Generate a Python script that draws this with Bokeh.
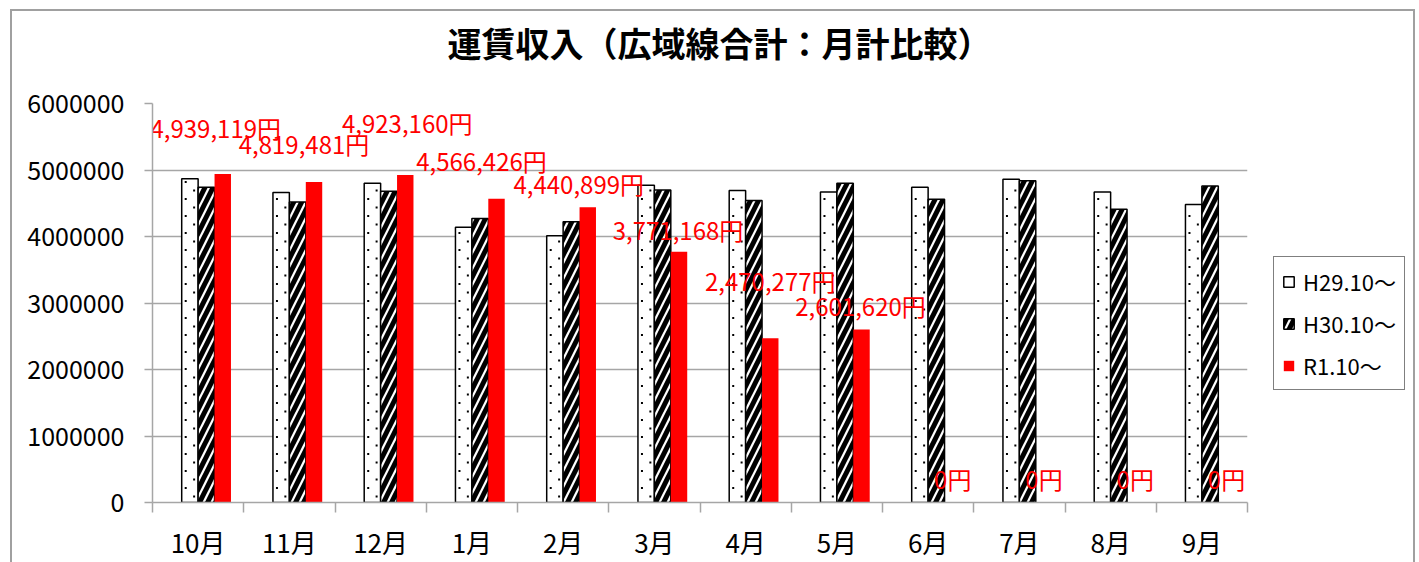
import numpy as np
from bokeh.plotting import figure
from bokeh.models import (Range1d, FixedTicker, BasicTickFormatter, Legend, LegendItem,
                          Title, ColumnDataSource)
from bokeh.core.properties import value
from bokeh.transform import dodge
from bokeh.embed import file_html
from bokeh.resources import INLINE

# ---- data ----
months = ["10月", "11月", "12月", "1月", "2月", "3月", "4月", "5月", "6月", "7月", "8月", "9月"]
h29 = [4870000, 4660000, 4800000, 4140000, 4010000, 4770000, 4690000, 4670000, 4740000, 4860000, 4670000, 4480000]
h30 = [4740000, 4520000, 4680000, 4270000, 4220000, 4700000, 4540000, 4800000, 4560000, 4840000, 4410000, 4760000]
r1 = [4939119, 4819481, 4923160, 4566426, 4440899, 3771168, 2470277, 2601620, 0, 0, 0, 0]
series_names = ["H29.10〜", "H30.10〜", "R1.10〜"]
y_ticks = [0, 1000000, 2000000, 3000000, 4000000, 5000000, 6000000]
title_text = "運賃収入（広域線合計：月計比較）"

# label placement (data-unit y of label centre, pixel x nudge)
label_y = [5640000, 5400000, 5710000, 5140000, 4790000, 4110000, 3340000, 2960000, 360000, 360000, 360000, 360000]
label_dx = [-7, -10, 2, -15, -9, -1, 0, -1, 0, 0, 0, 0]

FONT = "Noto Sans CJK JP"
GRID = "#a6a6a6"
FRAME_W, FRAME_H = 1095, 399
LEFT, RIGHT, TOP, BOTTOM = 152, 171, 103, 59
SHIFT = 21           # extra room above the title, scrolled away with a negative top margin
W, H = LEFT + FRAME_W + RIGHT, TOP + SHIFT + FRAME_H + BOTTOM

n = len(months)
xc = np.arange(n) + 0.5
src = ColumnDataSource(dict(
    x=xc, h29=h29, h30=h30, r1=r1,
    label_y=label_y, label_dx=label_dx,
    label_text=["{:,}円".format(v) for v in r1],
))

p = figure(width=W, height=H, frame_width=FRAME_W, frame_height=FRAME_H,
           output_backend="svg", toolbar_location=None,
           x_range=Range1d(0, n), y_range=Range1d(0, max(y_ticks)),
           min_border_left=LEFT, min_border_right=RIGHT, min_border_top=TOP, min_border_bottom=BOTTOM)
p.outline_line_color = None
p.background_fill_color = "white"
p.border_fill_alpha = 0
# outer chart-area border (top, left, right edges) drawn behind the transparent canvas border
line = "linear-gradient(#a0a0a0,#a0a0a0)"
p.styles = {
    "margin-top": f"-{SHIFT}px",
    "background-color": "white",
    "background-image": f"{line}, {line}, {line}",
    "background-position": f"10px {9 + SHIFT}px, 10px {9 + SHIFT}px, 1413px {9 + SHIFT}px",
    "background-size": "1405px 2px, 2px 800px, 2px 800px",
    "background-repeat": "no-repeat",
}

# y axis
p.yaxis.ticker = FixedTicker(ticks=y_ticks)
p.yaxis.formatter = BasicTickFormatter(use_scientific=False)
p.yaxis.major_tick_out = 8
p.yaxis.major_tick_in = 0
p.yaxis.minor_tick_out = 0
p.yaxis.minor_tick_in = 0
p.yaxis.axis_line_color = GRID
p.yaxis.axis_line_width = 1.5
p.yaxis.major_tick_line_color = GRID
p.yaxis.major_tick_line_width = 1.5
p.yaxis.major_label_text_font = FONT
p.yaxis.major_label_text_font_size = "25px"
p.yaxis.major_label_text_color = "black"
p.yaxis.major_label_standoff = 20

# x axis: labels at category centres, ticks at category boundaries
p.xaxis.ticker = FixedTicker(ticks=list(xc), minor_ticks=list(range(n + 1)))
p.xaxis.major_label_overrides = {float(x): m for x, m in zip(xc, months)}
p.xaxis.major_tick_out = 0
p.xaxis.major_tick_in = 0
p.xaxis.minor_tick_out = 10
p.xaxis.minor_tick_in = 0
p.xaxis.minor_tick_line_color = GRID
p.xaxis.minor_tick_line_width = 1.5
p.xaxis.axis_line_color = GRID
p.xaxis.axis_line_width = 1.5
p.xaxis.major_label_text_font = FONT
p.xaxis.major_label_text_font_size = "26px"
p.xaxis.major_label_text_color = "black"
p.xaxis.major_label_standoff = 10

p.xgrid.visible = False
p.ygrid.ticker = FixedTicker(ticks=y_ticks)
p.ygrid.grid_line_color = GRID
p.ygrid.grid_line_width = 1.5

# bars
b1 = p.vbar(x=dodge("x", -0.09, range=p.x_range), top="h29", width=0.18, source=src,
            fill_color="white", line_color="black", line_width=1.5)
b2 = p.vbar(x=dodge("x", 0.09, range=p.x_range), top="h30", width=0.18, source=src,
            fill_color="white", line_color="black", line_width=1.5,
            hatch_pattern="right_diagonal_line", hatch_scale=16, hatch_weight=5, hatch_color="black")
b3 = p.vbar(x=dodge("x", 0.27, range=p.x_range), top="r1", width=0.18, source=src,
            fill_color="#ff0000", line_color=None)

# sparse staggered dot texture inside the H29 bars (derived from the h29 values)
row_step = 8.5 / FRAME_H * max(y_ticks)       # ~8.5 px between dot rows
col_dx = 4.2 / (FRAME_W / n)                  # ~4 px either side of bar centre
dot_x, dot_y = [], []
for i, v in enumerate(h29):
    k = 0
    yy = row_step * 0.7
    while yy < v - row_step * 0.4:
        dot_x.append(xc[i] - 0.09 + (col_dx if k % 2 == 0 else -col_dx))
        dot_y.append(yy)
        k += 1
        yy += row_step
p.scatter(dot_x, dot_y, marker="square", size=2, color="black", line_color=None)

# data labels
p.text(x=dodge("x", 0.27, range=p.x_range), y="label_y", text="label_text", x_offset="label_dx",
       source=src, text_color="#ff0000", text_font=value(FONT), text_font_size="24px",
       text_align="center", text_baseline="middle")

# legend (right side panel)
legend = Legend(items=[LegendItem(label=series_names[0], renderers=[b1]),
                       LegendItem(label=series_names[1], renderers=[b2]),
                       LegendItem(label=series_names[2], renderers=[b3])],
                location=(26, 112))
legend.border_line_color = "black"
legend.border_line_width = 1
legend.background_fill_color = "white"
legend.background_fill_alpha = 1
legend.label_text_font = FONT
legend.label_text_font_size = "22px"
legend.label_text_color = "black"
legend.glyph_width = 13
legend.glyph_height = 13
legend.label_standoff = 8
legend.label_height = 22
legend.spacing = 10
legend.padding = 8
legend.margin = 0
p.add_layout(legend, "right")

# title
p.title = Title(text=title_text, align="left", offset=295, vertical_align="bottom", standoff=73,
                text_font=FONT, text_font_size="34px", text_font_style="bold", text_color="black")

open("out.html", "w").write(file_html(p, INLINE))
